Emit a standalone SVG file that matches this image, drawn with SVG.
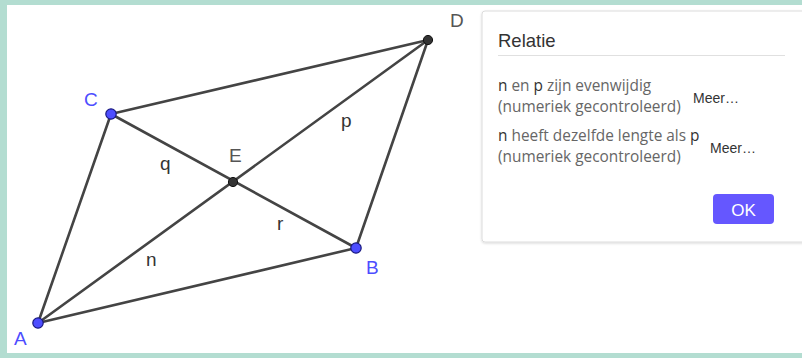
<svg xmlns="http://www.w3.org/2000/svg" width="802" height="358" viewBox="0 0 802 358">
<style>
.seg{stroke:#444;stroke-width:2.6;stroke-linecap:round;fill:none}
.fp{fill:#4d4dff;stroke:#1a1a80;stroke-width:1.2}
.dp{fill:#333;stroke:#111;stroke-width:1}
.pl{font-family:"Liberation Sans",Arial,sans-serif;font-size:19px;fill:#4d4dff}
.sl{font-family:"Liberation Sans",Arial,sans-serif;font-size:19px;fill:#333}
.body{font-family:"Open Sans",sans-serif;font-size:15.4px;fill:#666}
.dk{fill:#333}
.meer{font-family:"Liberation Sans",Arial,sans-serif;font-size:14px;fill:#333}
</style>
<defs>
<filter id="sh" x="-5%" y="-5%" width="110%" height="115%">
<feDropShadow dx="0" dy="1" stdDeviation="1.2" flood-color="#000" flood-opacity="0.15"/>
</filter>
</defs>
<rect x="0" y="0" width="802" height="358" fill="#b3ddd1"/>
<rect x="7" y="5" width="795" height="348" fill="#ffffff"/>
<g id="connectors">
<line class="seg" x1="38" y1="323" x2="356" y2="248"/>
<line class="seg" x1="356" y1="248" x2="428" y2="40"/>
<line class="seg" x1="428" y1="40" x2="111" y2="114"/>
<line class="seg" x1="111" y1="114" x2="38" y2="323"/>
<line class="seg" x1="38" y1="323" x2="428" y2="40"/>
<line class="seg" x1="111" y1="114" x2="356" y2="248"/>
</g>
<g id="labels-segments">
<text class="sl" x="160" y="170">q</text>
<text class="sl" x="341" y="127">p</text>
<text class="sl" x="277" y="230">r</text>
<text class="sl" x="146" y="266">n</text>
</g>
<g id="A"><circle class="fp" cx="38" cy="323" r="5.2"/><text class="pl" x="14" y="345">A</text></g>
<g id="B"><circle class="fp" cx="356" cy="248" r="5.2"/><text class="pl" x="366" y="274">B</text></g>
<g id="C"><circle class="fp" cx="111" cy="114" r="5.2"/><text class="pl" x="84" y="106">C</text></g>
<g id="D"><circle class="dp" cx="428" cy="40" r="4.6"/><text class="sl" x="450" y="27" style="fill:#555">D</text></g>
<g id="E"><circle class="dp" cx="233" cy="182" r="4.6"/><text class="sl" x="229" y="162" style="fill:#555">E</text></g>
<g id="dialog">
<rect x="482" y="11" width="330" height="231" rx="3" fill="#fff" stroke="#dcdcdc" stroke-width="1" filter="url(#sh)"/>
<text x="498" y="47" style="font-family:'Liberation Sans',Arial,sans-serif;font-size:18.5px;fill:#333">Relatie</text>
<line x1="498" y1="55.5" x2="785" y2="55.5" stroke="#e0e0e0" stroke-width="1"/>
<text class="body" x="498" y="91"><tspan class="dk">n</tspan> en <tspan class="dk">p</tspan> zijn evenwijdig</text>
<text class="body" x="498" y="112">(numeriek gecontroleerd)</text>
<text class="meer" x="693" y="103">Meer…</text>
<text class="body" x="498" y="141"><tspan class="dk">n</tspan> heeft dezelfde lengte als <tspan class="dk">p</tspan></text>
<text class="body" x="498" y="162">(numeriek gecontroleerd)</text>
<text class="meer" x="710" y="153">Meer…</text>
<g id="ok">
<rect x="713" y="194" width="61" height="30" rx="4" fill="#6557ff"/>
<text x="743.5" y="216" text-anchor="middle" style="font-family:'Liberation Sans',Arial,sans-serif;font-size:17px;fill:#fff">OK</text>
</g>
</g>
</svg>
